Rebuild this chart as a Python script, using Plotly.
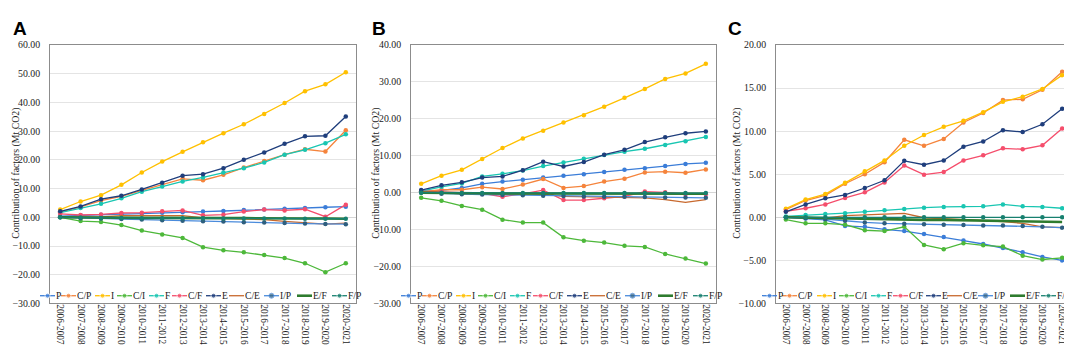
import plotly.graph_objects as go

periods = ["2006-2007", "2007-2008", "2008-2009", "2009-2010", "2010-2011",
           "2011-2012", "2012-2013", "2013-2014", "2014-2015", "2015-2016",
           "2016-2017", "2017-2018", "2018-2019", "2019-2020", "2020-2021"]
factors = ["P", "C/P", "I", "C/I", "F", "C/F", "E", "C/E", "I/P", "E/F", "F/P"]

# ---- Panel A ----
a_P = [0.4, 0.7, 0.9, 1.1, 1.3, 1.6, 1.8, 2.0, 2.2, 2.5, 2.7, 3.0, 3.2, 3.5, 3.7]
a_CP = [1.8, 3.6, 5.8, 7.3, 9.4, 11.5, 13.4, 12.9, 14.8, 17.3, 19.6, 21.8, 23.7, 22.9, 30.3]
a_I = [2.7, 5.5, 7.7, 11.3, 15.6, 19.4, 22.8, 26.1, 29.3, 32.4, 36.0, 39.8, 43.9, 46.3, 50.5]
a_CI = [0.0, -1.3, -1.6, -2.7, -4.6, -6.0, -7.2, -10.4, -11.5, -12.2, -13.1, -14.2, -16.0, -19.1, -16.0]
a_F = [1.6, 3.2, 4.7, 6.6, 8.9, 10.7, 12.5, 13.9, 15.6, 17.1, 19.1, 21.8, 23.5, 25.8, 28.9]
a_CF = [1.2, 0.8, 1.0, 1.5, 1.6, 2.1, 2.4, 0.7, 0.9, 2.0, 2.7, 2.4, 2.8, 0.2, 4.4]
a_E = [2.1, 3.8, 6.3, 7.5, 9.7, 12.0, 14.5, 15.0, 17.1, 20.0, 22.6, 25.6, 28.2, 28.4, 35.1]
a_CE = [0.0, 0.1, 0.1, 0.6, 0.6, 0.6, 0.6, -0.2, -0.4, -0.6, -0.8, -1.4, -1.9, -2.4, -2.0]
a_IP = [0.0, -0.3, -0.4, -0.6, -0.8, -1.0, -1.2, -1.4, -1.5, -1.7, -1.8, -2.0, -2.2, -2.3, -2.4]
a_EF = [0.0, -0.1, -0.1, -0.2, -0.2, -0.2, -0.3, -0.3, -0.3, -0.3, -0.4, -0.4, -0.4, -0.4, -0.5]
a_FP = [0.0, -0.1, -0.2, -0.2, -0.3, -0.3, -0.3, -0.3, -0.4, -0.4, -0.4, -0.4, -0.5, -0.5, -0.5]

# ---- Panel B ----
b_P = [0.3, 0.6, 1.3, 2.4, 3.0, 3.5, 4.1, 4.6, 5.0, 5.6, 6.2, 6.6, 7.2, 7.8, 8.1]
b_CP = [0.2, 0.8, 0.8, 1.5, 1.0, 2.2, 3.7, 1.3, 1.8, 3.0, 3.8, 5.5, 5.7, 5.4, 6.3]
b_I = [2.4, 4.6, 6.2, 9.1, 12.1, 14.7, 16.8, 19.0, 21.0, 23.3, 25.7, 28.1, 30.8, 32.3, 34.9]
b_CI = [-1.4, -2.2, -3.6, -4.6, -7.3, -8.1, -8.1, -12.1, -13.0, -13.5, -14.4, -14.7, -16.6, -17.8, -19.2]
b_F = [0.4, 1.6, 2.5, 4.4, 5.1, 6.0, 7.2, 8.2, 9.2, 10.2, 11.1, 11.9, 12.9, 13.9, 15.1]
b_CF = [0.4, 0.3, 0.0, -0.2, -1.1, -0.3, 0.7, -2.0, -2.0, -1.5, -1.0, 0.3, 0.1, -0.4, -0.4]
b_E = [0.7, 2.0, 2.8, 4.1, 4.4, 6.1, 8.4, 7.1, 8.3, 10.3, 11.6, 13.7, 15.0, 16.1, 16.6]
b_CE = [0.2, 0.1, -0.4, -0.3, -0.4, -0.4, -0.4, -1.0, -1.1, -1.4, -1.3, -1.4, -1.9, -2.6, -1.9]
b_IP = [0.0, -0.3, -0.4, -0.5, -0.6, -0.7, -0.8, -0.9, -1.0, -1.1, -1.1, -1.2, -1.3, -1.3, -1.4]
b_EF = [0.0, -0.1, -0.1, -0.1, -0.2, -0.2, -0.2, -0.2, -0.2, -0.3, -0.3, -0.3, -0.3, -0.3, -0.3]
b_FP = [0.0, 0.0, -0.1, -0.1, -0.1, -0.1, -0.1, -0.1, -0.1, -0.1, -0.1, -0.1, -0.1, -0.1, -0.1]

# ---- Panel C ----
c_P = [0.0, -0.15, -0.3, -1.0, -1.1, -1.4, -1.6, -1.95, -2.3, -2.7, -3.1, -3.55, -4.05, -4.6, -5.0]
c_CP = [0.9, 1.95, 2.55, 3.9, 5.0, 6.4, 9.0, 8.3, 9.1, 11.0, 12.1, 13.6, 13.7, 14.8, 16.9]
c_I = [1.0, 2.06, 2.7, 4.0, 5.35, 6.6, 8.3, 9.55, 10.5, 11.2, 12.2, 13.4, 14.0, 14.9, 16.5]
c_CI = [-0.26, -0.7, -0.7, -0.86, -1.5, -1.6, -1.1, -3.2, -3.7, -3.0, -3.25, -3.4, -4.45, -4.9, -4.7]
c_F = [0.1, 0.26, 0.37, 0.48, 0.64, 0.82, 0.97, 1.12, 1.2, 1.27, 1.27, 1.5, 1.27, 1.2, 1.05]
c_CF = [0.7, 1.05, 1.5, 2.25, 2.9, 4.05, 6.0, 4.95, 5.25, 6.6, 7.2, 8.0, 7.9, 8.35, 10.3]
c_E = [0.64, 1.5, 2.2, 2.6, 3.4, 4.3, 6.55, 6.1, 6.6, 8.2, 8.8, 10.1, 9.9, 10.8, 12.6]
c_CE = [0.1, 0.0, -0.1, 0.2, 0.3, 0.4, 0.45, -0.05, -0.15, -0.25, -0.35, -0.5, -0.7, -1.1, -1.2]
c_IP = [0.0, -0.1, -0.2, -0.4, -0.6, -0.7, -0.75, -0.8, -0.85, -0.9, -0.95, -0.95, -1.0, -1.1, -1.2]
c_EF = [0.0, -0.05, -0.1, -0.1, -0.15, -0.2, -0.25, -0.3, -0.3, -0.35, -0.4, -0.45, -0.5, -0.5, -0.55]
c_FP = [0.0, 0.0, 0.0, 0.0, 0.0, 0.0, 0.0, 0.0, 0.0, 0.0, 0.0, 0.0, 0.0, 0.0, 0.0]

panel_letters = ["A", "B", "C"]
y_title = "Contribution of factors (Mt CO2)"

# ---- styling ----
W, H = 1072, 345
PLOT_TOP, PLOT_BOTTOM = 32, 299
SERIF = "Liberation Serif, Times New Roman, serif"
TXT = "#1a1a1a"

styles = {
    "P":   dict(line="#3B7DD8", marker="#3B7DD8", width=1.3, markers=True),
    "C/P": dict(line="#F5843C", marker="#F5843C", width=1.3, markers=True),
    "I":   dict(line="#FFC000", marker="#FFC000", width=1.3, markers=True),
    "C/I": dict(line="#4DB83A", marker="#4DB83A", width=1.3, markers=True),
    "F":   dict(line="#19C6B2", marker="#19C6B2", width=1.3, markers=True),
    "C/F": dict(line="#F54E6C", marker="#F54E6C", width=1.3, markers=True),
    "E":   dict(line="#1F3E7C", marker="#1F3E7C", width=1.3, markers=True),
    "C/E": dict(line="#C8692E", marker="#C8692E", width=1.3, markers=False),
    "I/P": dict(line="#4A8BDC", marker="#2E5E7E", width=1.3, markers=True),
    "E/F": dict(line="#2E7B2E", marker="#2E7B2E", width=2.6, markers=False),
    "F/P": dict(line="#17806F", marker="#17806F", width=1.3, markers=True),
}

legend_ab = [0, 21, 55, 77, 109, 132, 166, 189, 224, 257, 292]
legend_c = [0, 20, 55, 77, 109, 131, 164, 185, 216, 248, 279]

panels = [
    dict(data=[a_P, a_CP, a_I, a_CI, a_F, a_CF, a_E, a_CE, a_IP, a_EF, a_FP],
         left=42, right=348, yr=[-30, 60], dtick=10, leg_x=32, leg_off=legend_ab,
         letter_x=3, title_x=8),
    dict(data=[b_P, b_CP, b_I, b_CI, b_F, b_CF, b_E, b_CE, b_IP, b_EF, b_FP],
         left=403, right=708, yr=[-30, 40], dtick=10, leg_x=393, leg_off=legend_ab,
         letter_x=362, title_x=368),
    dict(data=[c_P, c_CP, c_I, c_CI, c_F, c_CF, c_E, c_CE, c_IP, c_EF, c_FP],
         left=768, right=1064, yr=[-10, 20], dtick=5, leg_x=754, leg_off=legend_c,
         letter_x=718, title_x=729),
]

fig = go.Figure()
layout_axes = {}
annotations = []

for i, p in enumerate(panels):
    k = "" if i == 0 else str(i + 1)
    for name, vals in zip(factors, p["data"]):
        st = styles[name]
        fig.add_trace(go.Scatter(
            x=periods, y=vals, name=name,
            mode="lines+markers" if st["markers"] else "lines",
            line=dict(color=st["line"], width=st["width"]),
            marker=dict(size=4.5, color=st["marker"], symbol="circle"),
            xaxis="x" + k, yaxis="y" + k, showlegend=False,
        ))
    layout_axes["xaxis" + k] = dict(
        domain=[p["left"] / W, p["right"] / W], anchor="y" + k,
        type="category", range=[-0.5, len(periods) - 0.5],
        tickangle=90, showline=True, mirror=True, linecolor="#8c8c8c", linewidth=1,
        showgrid=False, zeroline=False, ticks="", ticklabelstandoff=-2,
        tickfont=dict(family=SERIF, size=9.3, color=TXT), fixedrange=True,
    )
    layout_axes["yaxis" + k] = dict(
        domain=[1 - PLOT_BOTTOM / H, 1 - PLOT_TOP / H], anchor="x" + k,
        range=p["yr"], dtick=p["dtick"], tick0=0, tickformat=".2f",
        showline=True, mirror=True, linecolor="#8c8c8c", linewidth=1,
        showgrid=True, gridcolor="#e4e4e4", gridwidth=1,
        zeroline=True, zerolinecolor="#d6d6d6", zerolinewidth=1.2,
        ticks="", ticklabelstandoff=7,
        tickfont=dict(family=SERIF, size=9.8, color=TXT), fixedrange=True,
    )
    # panel letter
    annotations.append(dict(
        text="<b>%s</b>" % panel_letters[i], x=p["letter_x"] / W, y=1 - 2 / H,
        xref="paper", yref="paper", xanchor="left", yanchor="top", showarrow=False,
        font=dict(family="Liberation Sans, Arial, sans-serif", size=19, color="#000"),
    ))
    # y-axis title
    annotations.append(dict(
        text=y_title, x=p["title_x"] / W, y=1 - 165 / H, xref="paper", yref="paper",
        xanchor="center", yanchor="middle", textangle=-90, showarrow=False,
        font=dict(family=SERIF, size=9.8, color=TXT),
    ))

# ---- custom in-plot legend (drawn on an invisible pixel-space overlay axis) ----
layout_axes["xaxis4"] = dict(domain=[0, 1], range=[0, W], anchor="y4", visible=False, fixedrange=True)
layout_axes["yaxis4"] = dict(domain=[0, 1], range=[H, 0], anchor="x4", visible=False, fixedrange=True)
LEG_Y = 291
SEG = 15
for p in panels:
    for name, off in zip(factors, p["leg_off"]):
        st = styles[name]
        x0 = p["leg_x"] + off
        fig.add_trace(go.Scatter(
            x=[x0, x0 + SEG / 2, x0 + SEG], y=[LEG_Y] * 3,
            mode="lines+markers",
            line=dict(color=st["line"], width=st["width"]),
            marker=dict(size=[0, 5 if st["markers"] else 0, 0], color=st["marker"]),
            xaxis="x4", yaxis="y4", showlegend=False, hoverinfo="skip",
        ))
        annotations.append(dict(
            text=name, x=(x0 + SEG) / W, y=1 - LEG_Y / H, xref="paper", yref="paper",
            xanchor="left", yanchor="middle", showarrow=False, borderpad=0,
            font=dict(family=SERIF, size=9.6, color=TXT),
        ))

fig.update_layout(
    width=W, height=H, margin=dict(l=0, r=0, t=0, b=0),
    paper_bgcolor="white", plot_bgcolor="rgba(0,0,0,0)",
    showlegend=False, annotations=annotations, **layout_axes,
)

fig.write_html("out.html")
